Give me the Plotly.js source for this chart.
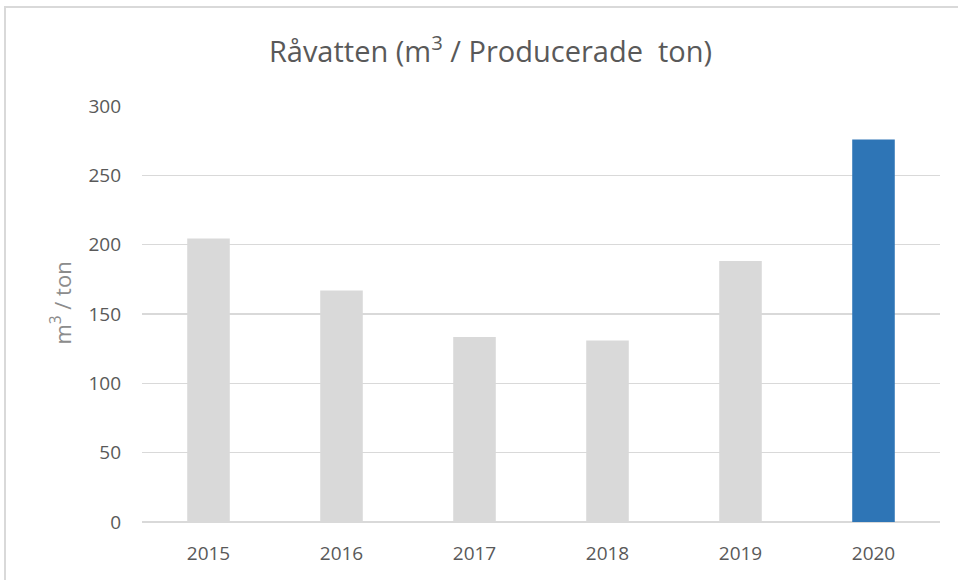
<!DOCTYPE html>
<html>
<head>
<meta charset="utf-8">
<script src="https://cdn.plot.ly/plotly-3.0.1.min.js"></script>
<style>
  html, body { margin: 0; padding: 0; background: #fff; }
  #frame { position: absolute; left: 4px; top: 6px; width: 960px; height: 580px;
           border-left: 2px solid #d9d9d9; border-top: 2px solid #d9d9d9; box-sizing: border-box; }
  #chart { position: absolute; left: 0; top: 0; width: 958px; height: 580px; }
</style>
</head>
<body>
<div id="frame"></div>
<div id="chart"></div>
<script>
const years = ['2015', '2016', '2017', '2018', '2019', '2020'];
const values = [204.5, 166.9, 133.5, 130.9, 188.3, 275.9];
const barColors = ['#d9d9d9', '#d9d9d9', '#d9d9d9', '#d9d9d9', '#d9d9d9', '#2e75b6'];
const yTicks = [0, 50, 100, 150, 200, 250, 300];
const titleText = 'Råvatten (m<sup>3</sup> / Producerade  ton)';
const yTitleText = 'm<sup>3</sup> / ton';

const font = '"Open Sans", "Liberation Sans", sans-serif';

Plotly.newPlot('chart', [{
  type: 'bar',
  x: years,
  y: values,
  width: 0.32,
  marker: { color: barColors },
  hoverinfo: 'x+y'
}], {
  width: 958, height: 580,
  paper_bgcolor: 'rgba(0,0,0,0)',
  plot_bgcolor: 'rgba(0,0,0,0)',
  margin: { l: 142, r: 18, t: 106, b: 57.5 },
  showlegend: false,
  title: {
    text: titleText,
    font: { family: font, size: 29, color: '#595959' },
    x: 0.512, xanchor: 'center', y: 0.91, yanchor: 'middle'
  },
  xaxis: {
    type: 'category',
    range: [-0.5, 5.5],
    showgrid: false,
    showline: false,
    ticks: '',
    ticklabelstandoff: 18,
    tickfont: { family: font, size: 19, color: '#595959' },
    fixedrange: true
  },
  yaxis: {
    range: [0, 300],
    tickvals: yTicks,
    showgrid: true,
    gridcolor: '#d9d9d9',
    gridwidth: 1.5,
    zeroline: true,
    zerolinecolor: '#d9d9d9',
    zerolinewidth: 1.5,
    showline: false,
    ticks: '',
    ticklabelstandoff: 20,
    tickfont: { family: font, size: 19, color: '#595959' },
    fixedrange: true
  },
  annotations: [{
    text: yTitleText,
    xref: 'paper', yref: 'paper',
    x: -0.1015, y: 0.525,
    xanchor: 'center', yanchor: 'middle',
    textangle: -90,
    showarrow: false,
    font: { family: font, size: 22, color: '#8c8c8c' }
  }]
}, { displayModeBar: false, staticPlot: true });
</script>
</body>
</html>
